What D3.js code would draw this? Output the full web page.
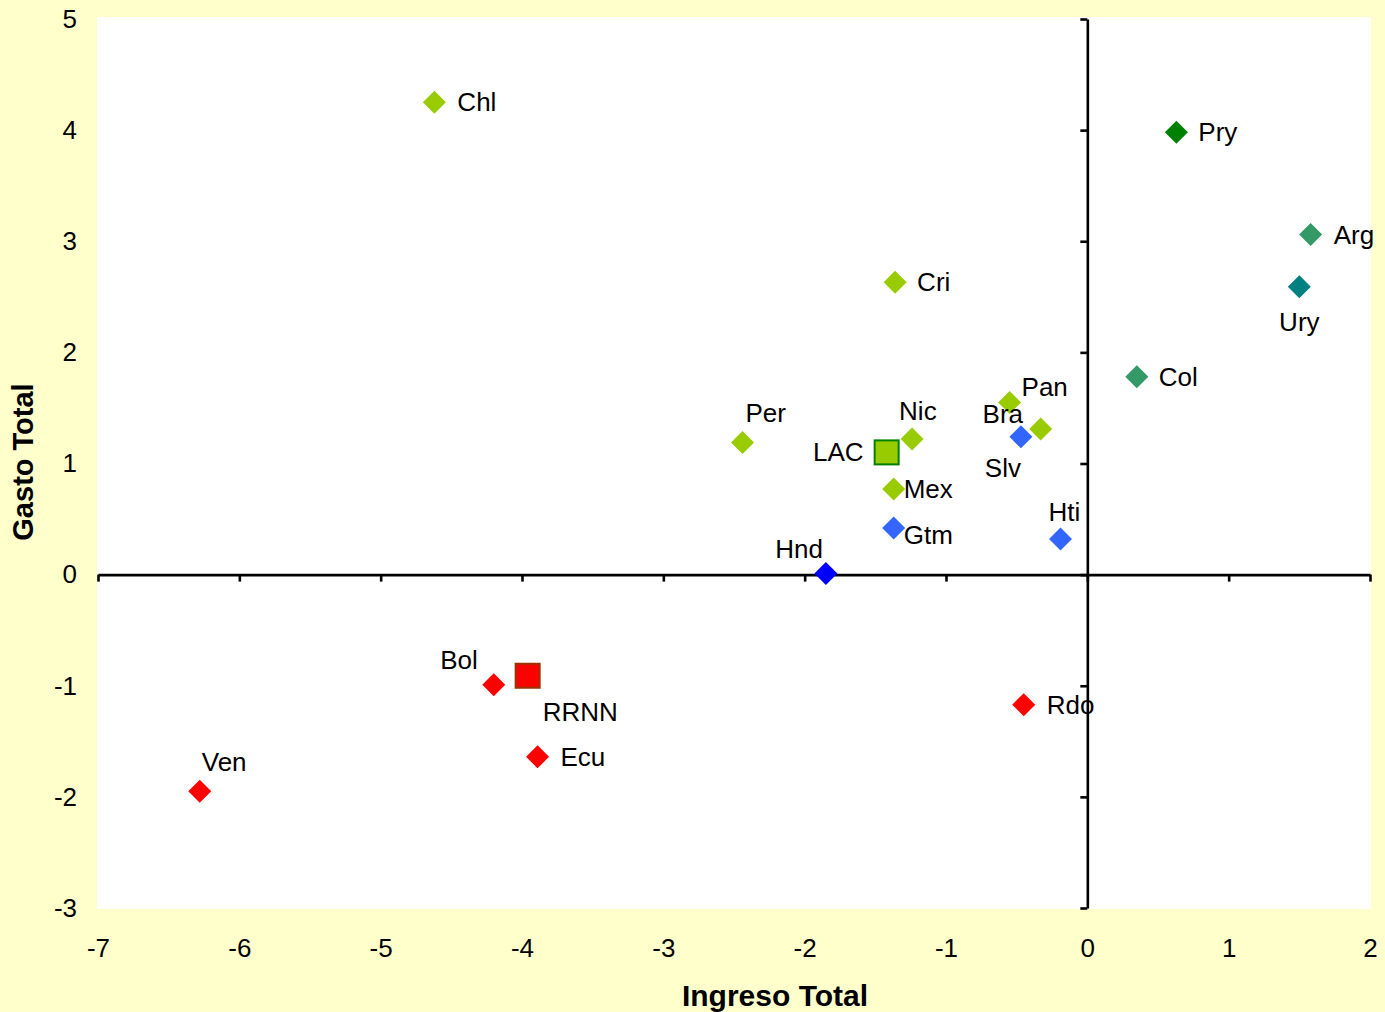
<!DOCTYPE html>
<html><head><meta charset="utf-8">
<script src="https://cdn.jsdelivr.net/npm/d3@7"></script>
<style>
html,body{margin:0;padding:0;background:#FFFFCC;}
svg{display:block;font-family:"Liberation Sans",Arial,sans-serif;}
</style></head>
<body>
<svg id="chart" width="1385" height="1012"></svg>
<script>
// ---- data ----
const countries = ["Chl","Pry","Arg","Ury","Col","Cri","Per","Nic","Mex","Gtm","Hnd","Bra","Pan","Slv","Hti","Rdo","Bol","Ecu","Ven"];
const ingreso   = [-4.62, 0.63, 1.58, 1.50, 0.35, -1.36, -2.44, -1.24, -1.37, -1.37, -1.85, -0.55, -0.33, -0.47, -0.19, -0.45, -4.20, -3.89, -6.28];
const gasto     = [4.25, 3.98, 3.06, 2.59, 1.78, 2.63, 1.19, 1.22, 0.77, 0.42, 0.01, 1.55, 1.31, 1.24, 0.32, -1.17, -0.99, -1.64, -1.95];
const groups    = ["lg","dg","sg","tl","sg","lg","lg","lg","lg","bl","db","lg","lg","bl","bl","rd","rd","rd","rd"];
const aggregates      = ["LAC","RRNN"];
const aggIngreso      = [-1.42, -3.96];
const aggGasto        = [1.10, -0.91];
const aggGroups       = ["lgAgg","rdAgg"];
const xTicks = [-7,-6,-5,-4,-3,-2,-1,0,1,2];
const yTicks = [-3,-2,-1,0,1,2,3,4,5];

// ---- styles / label placement ----
const fills = {lg:"#99CC00", dg:"#008000", sg:"#339966", tl:"#008080", bl:"#3366FF", db:"#0000FF", rd:"#FF0000", lgAgg:"#99CC00", rdAgg:"#FF0000"};
const strokes = {lgAgg:"#008000", rdAgg:"#993300"};
// [dx, dy, anchor]
const labelPos = {
  Chl:[23,0,"start"], Pry:[22,0,"start"], Arg:[23,0,"start"], Ury:[0,35,"middle"], Col:[22,0,"start"],
  Cri:[22,0,"start"], Per:[3,-29,"start"], Nic:[-13,-28,"start"], Mex:[10,0,"start"], Gtm:[10,7,"start"],
  Hnd:[-3,-25,"end"], Bra:[-27,12,"start"], Pan:[4,-42,"middle"], Slv:[-18,31,"middle"], Hti:[4,-27,"middle"],
  Rdo:[23,0,"start"], Bol:[-16,-25,"end"], Ecu:[23,0,"start"], Ven:[2,-29,"start"],
  LAC:[-23,0,"end"], RRNN:[15,36,"start"]
};

const svg = d3.select("#chart");
const plot = {l:97, t:17, r:1371, b:909};

const x = d3.scaleLinear().domain([-7,2]).range([98,1370]);
const y = d3.scaleLinear().domain([-3,5]).range([908,19]);

svg.append("rect").attr("x",0).attr("y",0).attr("width",1385).attr("height",1012).attr("fill","#FFFFCC");
svg.append("rect").attr("x",plot.l).attr("y",plot.t).attr("width",plot.r-plot.l).attr("height",plot.b-plot.t).attr("fill","#FFFFFF");

// zero-crossing axes
const gx = svg.append("g").attr("transform",`translate(0,${y(0)})`)
  .call(d3.axisBottom(x).tickValues(xTicks).tickSize(7).tickSizeOuter(0).tickFormat(""));
const gy = svg.append("g").attr("transform",`translate(${x(0)},0)`)
  .call(d3.axisLeft(y).tickValues(yTicks).tickSize(7).tickSizeOuter(0).tickFormat(""));
[gx,gy].forEach(g=>{
  g.selectAll("path.domain").attr("stroke","#000").attr("stroke-width",2.6);
  g.selectAll(".tick line").attr("stroke","#000").attr("stroke-width",2.6);
});

// tick labels at the low side
const lx = svg.append("g").attr("transform",`translate(0,${plot.b})`)
  .call(d3.axisBottom(x).tickValues(xTicks).tickSize(0).tickPadding(30).tickFormat(d=>d));
lx.select(".domain").remove();
lx.selectAll("text").attr("font-size",26).attr("fill","#000").attr("font-family","Liberation Sans, Arial, sans-serif");

const ly = svg.append("g").attr("transform",`translate(${plot.l},0)`)
  .call(d3.axisLeft(y).tickValues(yTicks).tickSize(0).tickPadding(20).tickFormat(d=>d));
ly.select(".domain").remove();
ly.selectAll("text").attr("font-size",26).attr("fill","#000").attr("font-family","Liberation Sans, Arial, sans-serif");

// axis titles
svg.append("text").attr("x",775).attr("y",1006).attr("text-anchor","middle")
  .attr("font-size",30).attr("font-weight","bold").text("Ingreso Total");
svg.append("text").attr("transform","translate(33,462) rotate(-90)").attr("text-anchor","middle")
  .attr("font-size",29).attr("font-weight","bold").text("Gasto Total");

// points
const pts = countries.map((c,i)=>({name:c, x:ingreso[i], y:gasto[i], g:groups[i]}));
const aggs = aggregates.map((c,i)=>({name:c, x:aggIngreso[i], y:aggGasto[i], g:aggGroups[i]}));

svg.append("g").selectAll("path").data(pts).join("path")
  .attr("d", d=>{const cx=x(d.x), cy=y(d.y), r=11.5; return `M${cx},${cy-r}L${cx+r},${cy}L${cx},${cy+r}L${cx-r},${cy}Z`;})
  .attr("fill", d=>fills[d.g]);

svg.append("g").selectAll("rect").data(aggs).join("rect")
  .attr("x", d=>x(d.x)-12).attr("y", d=>y(d.y)-12).attr("width",24).attr("height",24)
  .attr("fill", d=>fills[d.g]).attr("stroke", d=>strokes[d.g]).attr("stroke-width",2);

// labels
svg.append("g").selectAll("text").data(pts.concat(aggs)).join("text")
  .attr("x", d=>x(d.x)+labelPos[d.name][0])
  .attr("y", d=>y(d.y)+labelPos[d.name][1])
  .attr("text-anchor", d=>labelPos[d.name][2])
  .attr("dominant-baseline","central")
  .attr("font-size",26).attr("fill","#000")
  .text(d=>d.name);
</script>
</body></html>
